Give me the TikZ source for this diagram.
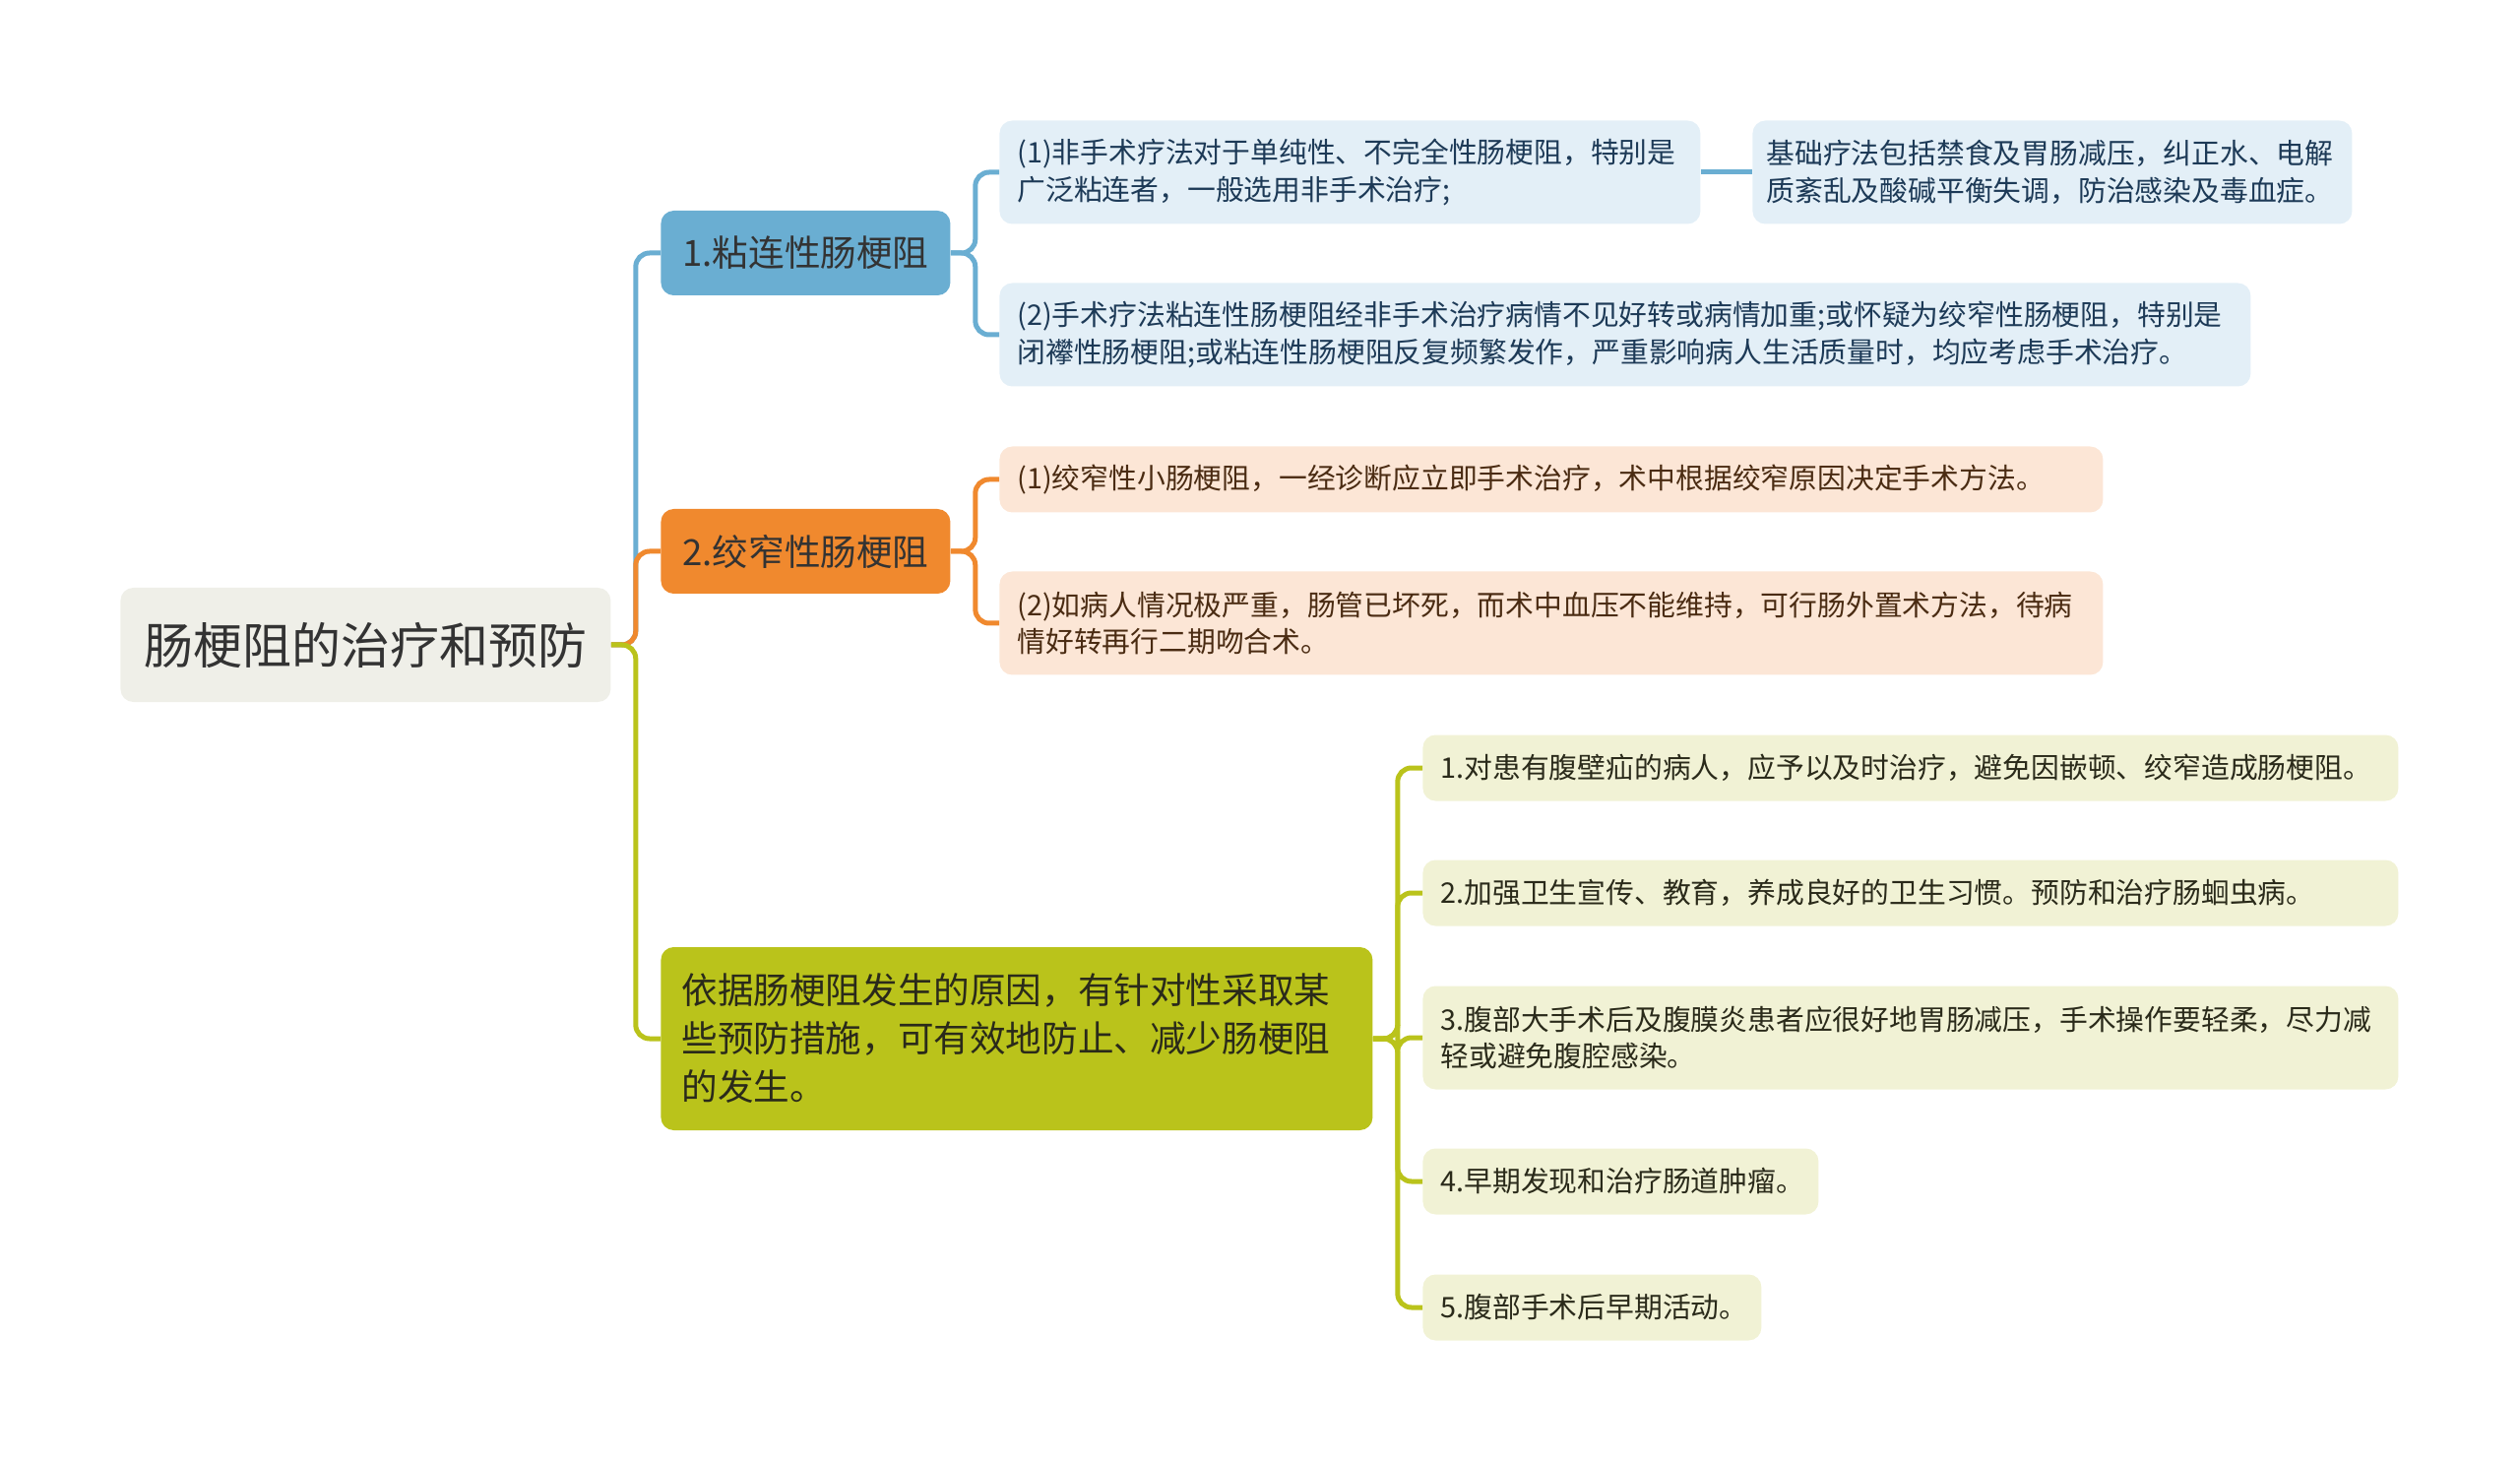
\documentclass[tikz,border=0pt]{standalone}
\usepackage{fontspec}
\newfontfamily\cjk{Noto Sans CJK SC}
\definecolor{cblue}{HTML}{6AAED2}
\definecolor{corange}{HTML}{F0892E}
\definecolor{cgreen}{HTML}{BAC31B}
\definecolor{rootfill}{HTML}{EFEFE8}
\definecolor{lblue}{HTML}{E3EFF7}
\definecolor{lpeach}{HTML}{FCE6D6}
\definecolor{lgreen}{HTML}{F1F2D5}
\definecolor{tblue}{HTML}{1D3A57}
\definecolor{tbrown}{HTML}{4A2B12}
\definecolor{tdark}{HTML}{2A2A1A}
\definecolor{troot}{HTML}{333333}
\begin{document}
\begin{tikzpicture}[x=0.5pt,y=-0.5pt,
  box/.style={rounded corners=6.5pt, inner sep=0pt, anchor=west},
  leaf/.style={box, inner xsep=9pt, align=left, text width=#1,
    font=\cjk\fontsize{14.4pt}{18.75pt}\selectfont},
  one/.style={minimum height=33.5pt},
  two/.style={minimum height=52.5pt},
  leafb/.style={leaf=#1, fill=lblue, text=tblue},
  leafo/.style={leaf=#1, fill=lpeach, text=tbrown},
  leafg/.style={leaf=#1, fill=lgreen, text=tdark},
  branch/.style={box, minimum width=147pt, minimum height=43pt, text=troot,
    font=\cjk\fontsize{18.3pt}{22pt}\selectfont},
  conn/.style={line width=2.5pt, rounded corners=7pt}
]
\useasboundingbox (0,0) rectangle (2560,1486);

% root
\node[box, fill=rootfill, minimum width=249pt, minimum height=58pt, text=troot,
  font=\cjk\fontsize{25pt}{30pt}\selectfont] (root) at (122,655) {肠梗阻的治疗和预防};

% branches
\node[branch, fill=cblue] (b1) at (671,257) {1.粘连性肠梗阻};
\node[branch, fill=corange] (b2) at (671,560) {2.绞窄性肠梗阻};
\node[box, fill=cgreen, text width=340.5pt, inner xsep=10.5pt, align=left,
  minimum height=93pt, text=tdark,
  font=\cjk\fontsize{18.3pt}{24.5pt}\selectfont] (b3) at (671,1055)
  {依据肠梗阻发生的原因，有针对性采取某\\些预防措施，可有效地防止、减少肠梗阻\\的发生。};

% leaves of branch 1
\node[leafb=338pt, two] (l1a) at (1015,175) {(1)非手术疗法对于单纯性、不完全性肠梗阻，特别是\\广泛粘连者，一般选用非手术治疗;};
\node[leafb=290.5pt, two, inner xsep=7pt] (l1c) at (1780,175) {基础疗法包括禁食及胃肠减压，纠正水、电解\\质紊乱及酸碱平衡失调，防治感染及毒血症。};
\node[leafb=617.5pt, two] (l1b) at (1015,340) {(2)手术疗法粘连性肠梗阻经非手术治疗病情不见好转或病情加重;或怀疑为绞窄性肠梗阻，特别是\\闭襻性肠梗阻;或粘连性肠梗阻反复频繁发作，严重影响病人生活质量时，均应考虑手术治疗。};

% leaves of branch 2
\node[leafo=542.5pt, one] (l2a) at (1015,487) {(1)绞窄性小肠梗阻，一经诊断应立即手术治疗，术中根据绞窄原因决定手术方法。};
\node[leafo=542.5pt, two] (l2b) at (1015,633) {(2)如病人情况极严重，肠管已坏死，而术中血压不能维持，可行肠外置术方法，待病\\情好转再行二期吻合术。};

% leaves of branch 3
\node[leafg=477.5pt, one] (l31) at (1445,780) {1.对患有腹壁疝的病人，应予以及时治疗，避免因嵌顿、绞窄造成肠梗阻。};
\node[leafg=477.5pt, one] (l32) at (1445,907) {2.加强卫生宣传、教育，养成良好的卫生习惯。预防和治疗肠蛔虫病。};
\node[leafg=477.5pt, two] (l33) at (1445,1054) {3.腹部大手术后及腹膜炎患者应很好地胃肠减压，手术操作要轻柔，尽力减\\轻或避免腹腔感染。};
\node[leafg=183pt, one] (l34) at (1445,1200) {4.早期发现和治疗肠道肿瘤。};
\node[leafg=154pt, one] (l35) at (1445,1328) {5.腹部手术后早期活动。};

% connectors root -> branches
\draw[conn, cblue] (root.east) -- ++(12.5pt,0) |- (b1.west);
\draw[conn, corange] (root.east) -- ++(12.5pt,0) |- (b2.west);
\draw[conn, cgreen] (root.east) -- ++(12.5pt,0) |- (b3.west);

% branch 1
\draw[conn, cblue] (b1.east) -- ++(12.5pt,0) |- (l1a.west);
\draw[conn, cblue] (b1.east) -- ++(12.5pt,0) |- (l1b.west);
\draw[conn, cblue] (l1a.east) -- (l1c.west);

% branch 2
\draw[conn, corange] (b2.east) -- ++(12.5pt,0) |- (l2a.west);
\draw[conn, corange] (b2.east) -- ++(12.5pt,0) |- (l2b.west);

% branch 3
\draw[conn, cgreen] (b3.east) -- ++(12.5pt,0) |- (l31.west);
\draw[conn, cgreen] (b3.east) -- ++(12.5pt,0) |- (l32.west);
\draw[conn, cgreen] (b3.east) -- ++(12.5pt,0) |- (l33.west);
\draw[conn, cgreen] (b3.east) -- ++(12.5pt,0) |- (l34.west);
\draw[conn, cgreen] (b3.east) -- ++(12.5pt,0) |- (l35.west);
\end{tikzpicture}
\end{document}
